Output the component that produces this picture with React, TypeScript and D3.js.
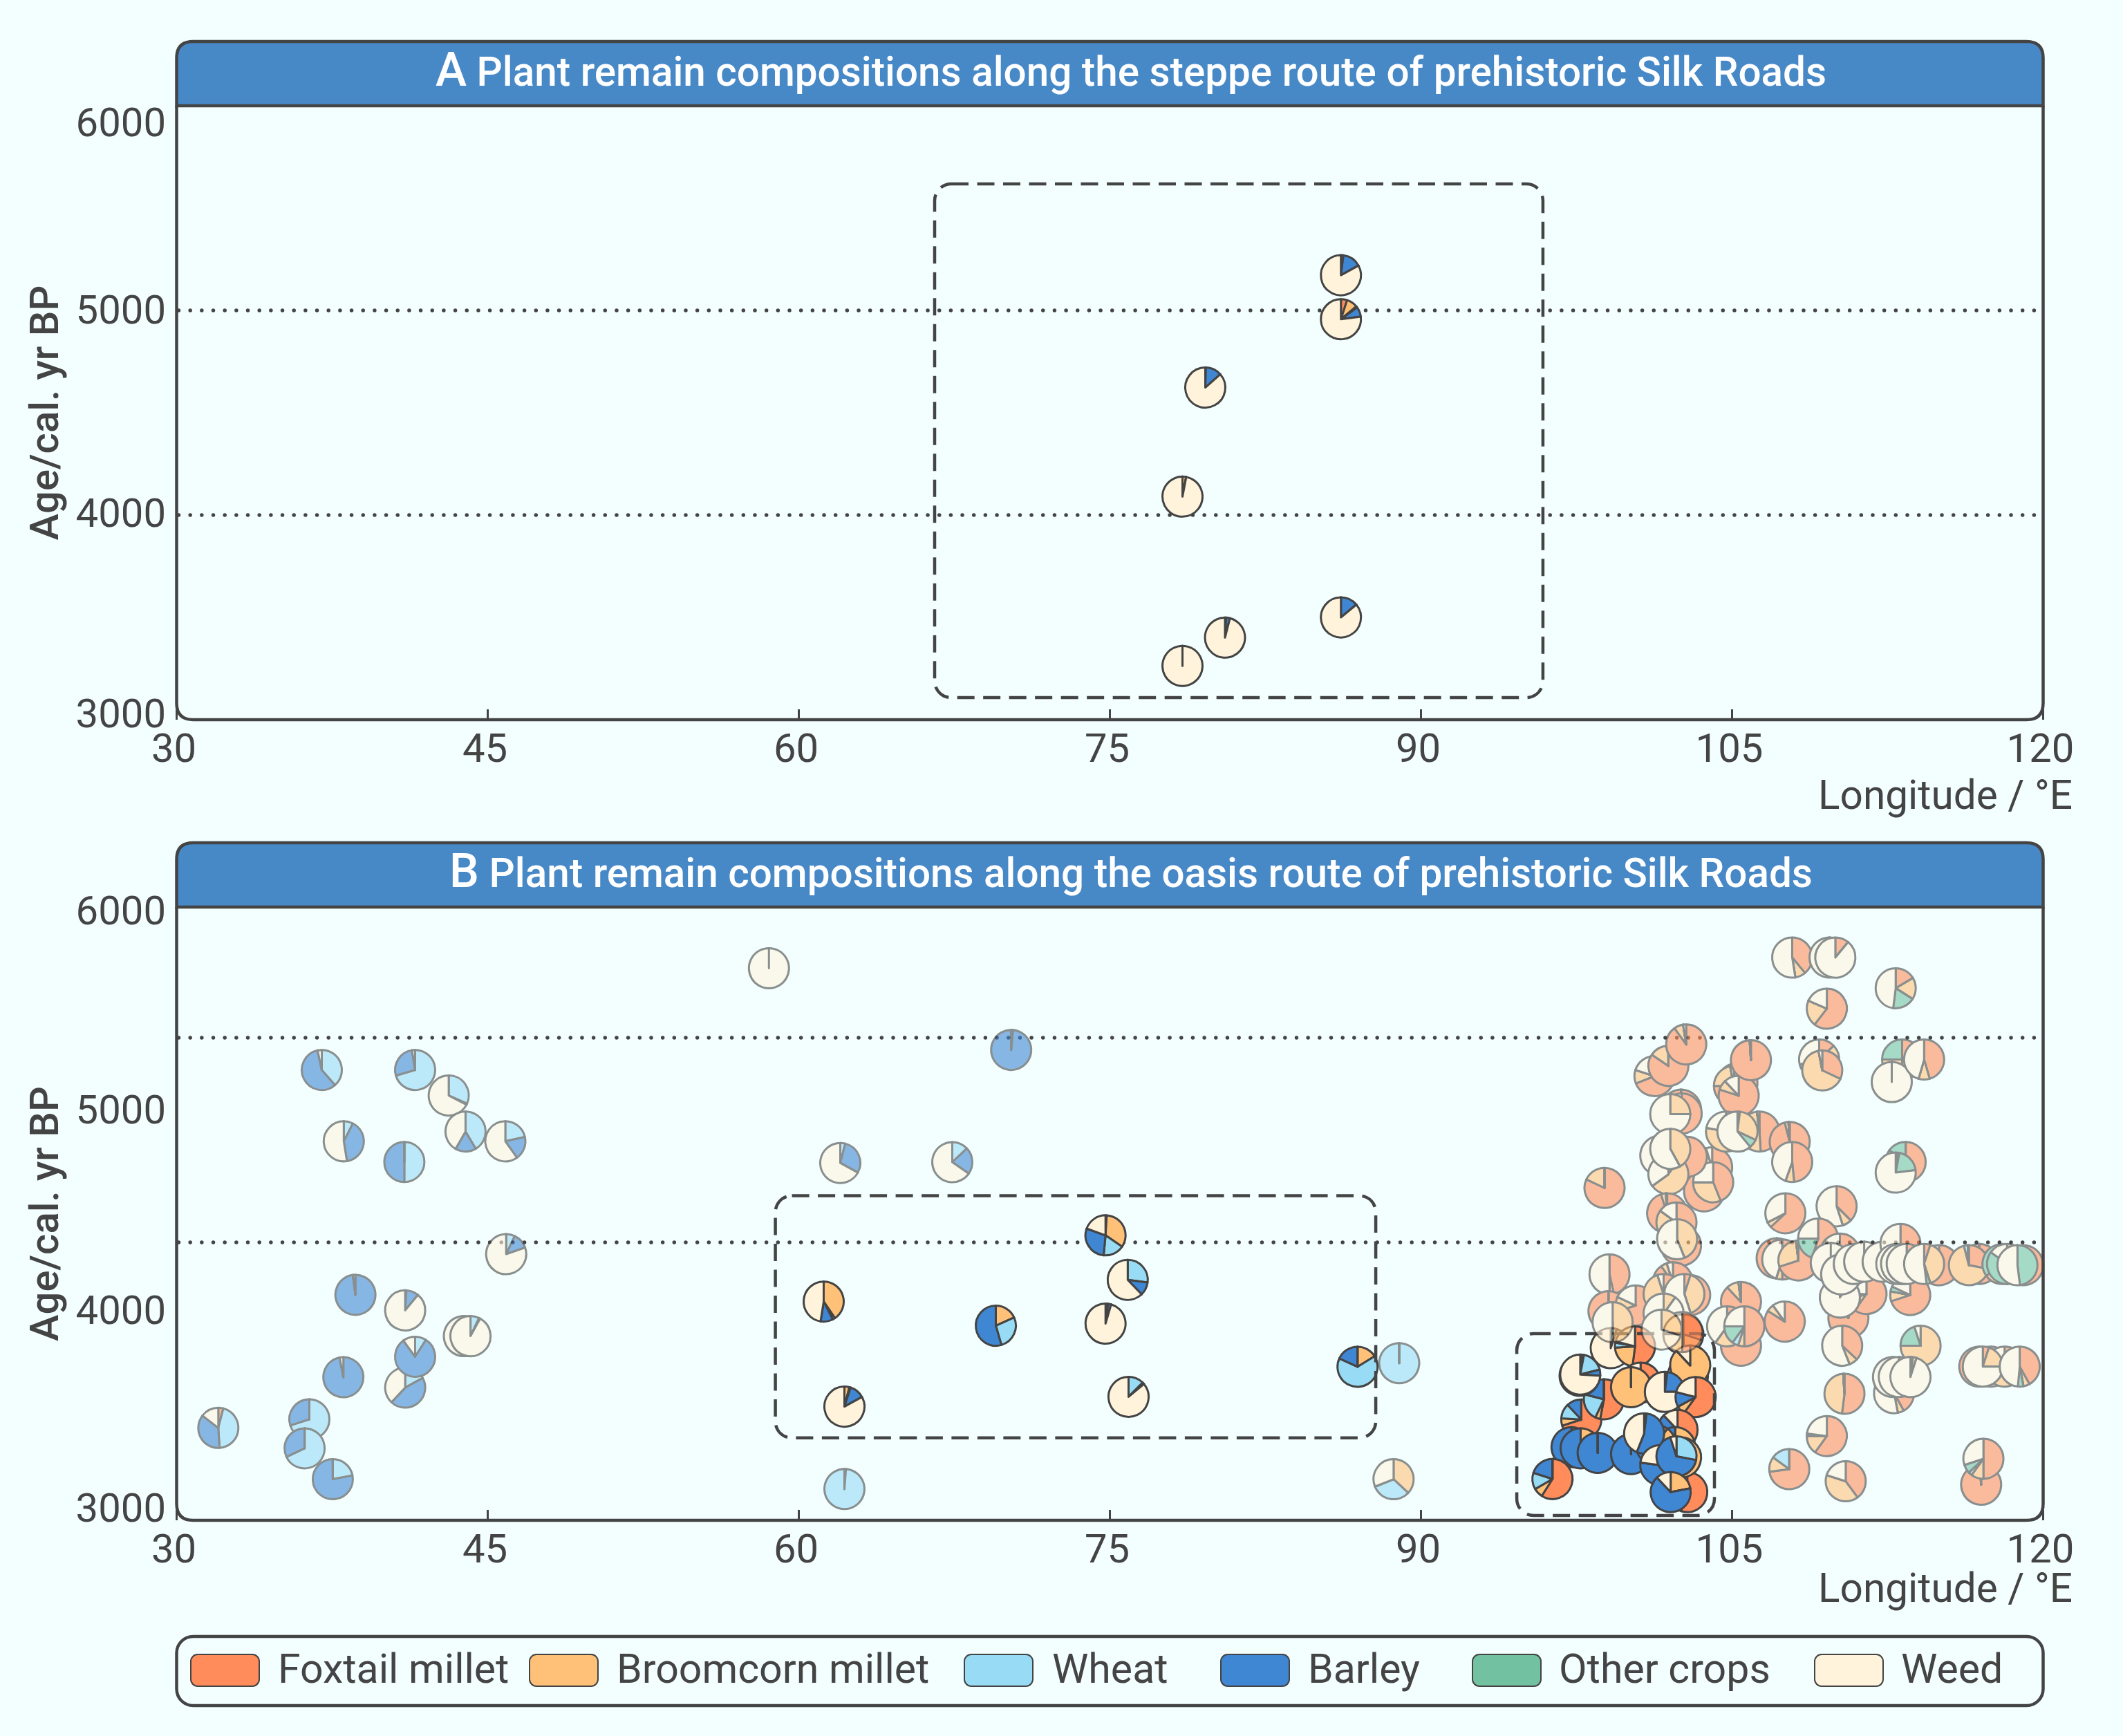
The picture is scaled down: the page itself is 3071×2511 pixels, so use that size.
import React from "react";
import * as d3 from "d3";

const W = 3071, H = 2511;
const categories = ["Foxtail millet", "Broomcorn millet", "Wheat", "Barley", "Other crops", "Weed"];
const colors = ["#ff8c5a", "#ffc178", "#98dbf5", "#3f86d3", "#72c2a2", "#fff3dc"];
const xTicks = [30, 45, 60, 75, 90, 105, 120];
const yTicks = [6000, 5000, 4000, 3000];

// [longitude, age, foxtail, broomcorn, wheat, barley, other, weed]
type P = number[];
const steppePies: P[] = [
  [86.14, 5172, 0, 0, .02, .15, 0, .83],
  [86.14, 4957, .05, .09, .01, .08, 0, .77],
  [79.6, 4623, 0, 0, .005, .13, 0, .865],
  [78.5, 4090, 0, .03, 0, 0, 0, .97],
  [86.14, 3500, 0, 0, 0, .14, 0, .86],
  [80.55, 3401, 0, 0, .01, .03, 0, .96],
  [78.5, 3263, 0, 0, 0, 0, 0, 1],
];
const oasisSolid: P[] = [
  [74.79, 4394, .01, .335, .17, .29, 0, .195],
  [75.86, 4176, 0, 0, .27, .108, 0, .622],
  [61.2, 4070, 0, .405, .02, .10, 0, .475],
  [69.5, 3952, 0, .183, .272, .545, 0, 0],
  [74.79, 3962, 0, .02, 0, .025, 0, .955],
  [62.2, 3556, 0, .04, .01, .12, 0, .83],
  [75.9, 3604, 0, 0, .125, .015, 0, .86],
  [86.94, 3751, 0, .162, .657, .181, 0, 0],
  [102.65, 3910, .3, .2, 0, 0, 0, .5],
  [102.87, 3707, .1, .3, .1, .1, 0, .4],
  [99.15, 3842, 0, 0, .05, 0, 0, .95],
  [100.32, 3851, .52, .22, .04, .01, 0, .21],
  [100.59, 3673, .9, 0, 0, 0, 0, .1],
  [97.73, 3493, .7, .06, .12, .12, 0, 0],
  [98.82, 3592, .53, .04, .22, .21, 0, 0],
  [97.65, 3707, 0, 0, 0, 0, 0, 1],
  [97.68, 3713, .02, .01, .18, .05, 0, .74],
  [100.13, 3651, 0, 1, 0, 0, 0, 0],
  [102.98, 3758, 0, .88, 0, 0, 0, .12],
  [101.76, 3628, 0, 0, .02, .23, 0, .75],
  [103.24, 3603, .6, .07, 0, .12, 0, .21],
  [102.84, 3138, .55, .2, 0, .12, 0, .13],
  [102.37, 3442, .5, .05, 0, .33, 0, .12],
  [102.26, 3358, 0, .7, .1, .2, 0, 0],
  [102.54, 3307, 0, .6, 0, .4, 0, 0],
  [97.26, 3358, 0, 0, 0, 1, 0, 0],
  [97.7, 3352, 0, .2, 0, .8, 0, 0],
  [98.52, 3330, 0, 0, 0, 1, 0, 0],
  [100.13, 3324, 0, 0, 0, 1, 0, 0],
  [101.32, 3369, .1, .1, .2, .6, 0, 0],
  [100.76, 3425, .02, 0, 0, .54, 0, .44],
  [101.54, 3270, 0, 0, 0, .77, 0, .23],
  [102.32, 3313, 0, 0, .28, .67, 0, .05],
  [102.04, 3138, 0, .22, 0, .66, 0, .12],
  [96.34, 3202, .59, .077, .134, .2, 0, 0],
];
const oasisFaded: P[] = [
  [37.0, 5203, 0, 0, .386, .58, 0, .034],
  [41.5, 5203, 0, 0, .705, .27, 0, .025],
  [43.12, 5078, 0, 0, .316, .01, 0, .674],
  [43.93, 4902, 0, 0, .415, .168, 0, .417],
  [45.85, 4854, 0, 0, .215, .187, 0, .598],
  [38.06, 4854, 0, 0, .075, .40, 0, .525],
  [40.98, 4753, 0, 0, .5, .5, 0, 0],
  [45.89, 4302, 0, 0, .07, .127, 0, .803],
  [38.62, 4103, 0, 0, 0, .98, 0, .02],
  [41.02, 4027, 0, 0, .01, .10, 0, .89],
  [43.85, 3901, 0, 0, 0, 0, 0, 1],
  [44.17, 3901, 0, 0, .07, .01, 0, .92],
  [41.02, 3649, 0, 0, .17, .45, 0, .38],
  [41.5, 3800, 0, 0, .09, .81, 0, .10],
  [38.04, 3700, 0, 0, 0, .97, 0, .03],
  [36.4, 3494, 0, 0, .70, .30, 0, 0],
  [36.17, 3352, 0, 0, .68, .32, 0, 0],
  [37.53, 3201, 0, 0, .22, .78, 0, 0],
  [32.01, 3452, .04, 0, .45, .365, 0, .145],
  [58.56, 5701, 0, 0, 0, 0, 0, 1],
  [70.24, 5301, 0, 0, .015, .985, 0, 0],
  [62.0, 4748, 0, 0, .04, .29, 0, .67],
  [67.4, 4752, 0, 0, .13, .217, 0, .653],
  [88.95, 3769, 0, 0, 1, 0, 0, 0],
  [62.2, 3153, 0, .012, .988, 0, 0, 0],
  [88.68, 3201, 0, .37, .32, 0, 0, .31],
  [98.85, 4626, .82, .18, 0, 0, 0, 0],
  [101.26, 5173, .69, .11, 0, 0, 0, .2],
  [101.93, 5223, .845, .155, 0, 0, 0, 0],
  [102.79, 5328, .9, .075, 0, 0, 0, .025],
  [102.54, 5009, 1, 0, 0, 0, 0, 0],
  [102.57, 4990, .72, .2, 0, 0, 0, .08],
  [102.02, 4987, 0, .25, 0, 0, 0, .75],
  [105.26, 5139, .7, .25, 0, 0, 0, .05],
  [105.09, 5125, .75, .22, 0, 0, 0, .03],
  [105.32, 5077, .8, .08, 0, 0, 0, .12],
  [105.91, 5251, .99, 0, 0, 0, 0, .01],
  [103.65, 4609, 1, 0, 0, 0, 0, 0],
  [104.04, 4727, .7, .25, 0, 0, 0, .05],
  [104.09, 4654, .44, .31, 0, 0, 0, .25],
  [102.82, 4778, .6, .3, 0, 0, 0, .1],
  [101.54, 4784, 0, .6, 0, 0, 0, .4],
  [101.93, 4693, .1, .55, 0, 0, 0, .35],
  [102.02, 4817, 0, .42, 0, 0, 0, .58],
  [104.71, 4902, 0, .78, 0, 0, 0, .22],
  [106.32, 4902, .49, .49, 0, 0, 0, .02],
  [105.26, 4902, .02, .3, 0, 0, .07, .61],
  [101.87, 4502, .95, .04, 0, 0, 0, .01],
  [102.32, 4457, .5, .35, 0, 0, 0, .15],
  [102.54, 4344, .8, .2, 0, 0, 0, 0],
  [102.35, 4375, 0, .44, 0, 0, 0, .56],
  [107.78, 4851, .96, .03, 0, 0, 0, .01],
  [107.9, 4753, .485, .07, 0, 0, 0, .445],
  [107.57, 4502, .63, .045, 0, 0, 0, .325],
  [110.04, 4536, .375, .075, 0, 0, 0, .55],
  [107.9, 5753, .39, .085, 0, 0, 0, .525],
  [109.7, 5753, 0, 0, 0, 0, 0, 1],
  [109.98, 5753, .11, 0, 0, 0, 0, .89],
  [109.57, 5503, .605, .21, 0, 0, 0, .185],
  [112.89, 5603, .165, .175, 0, 0, .18, .48],
  [109.2, 5254, .13, .55, 0, 0, .03, .29],
  [109.35, 5201, .32, .65, 0, 0, 0, .03],
  [113.2, 5254, .5, .25, 0, 0, .25, 0],
  [112.7, 5144, 0, 0, 0, 0, 0, 1],
  [114.26, 5254, .455, .09, 0, 0, 0, .455],
  [113.37, 4753, .5, .35, 0, 0, .15, 0],
  [112.89, 4701, .01, .02, 0, 0, .2, .77],
  [99.09, 4203, .465, .035, 0, 0, 0, .5],
  [99.04, 4023, 1, 0, 0, 0, 0, 0],
  [100.35, 4051, .7, .12, 0, 0, 0, .18],
  [99.24, 3969, 0, .5, 0, 0, 0, .5],
  [102.15, 4164, .9, .05, 0, 0, 0, .05],
  [101.7, 4107, .6, .35, 0, 0, 0, .05],
  [102.98, 4102, 1, 0, 0, 0, 0, 0],
  [102.7, 4107, .05, .4, 0, 0, 0, .55],
  [101.7, 4011, 0, .1, 0, 0, 0, .9],
  [102.6, 3921, .5, .2, 0, 0, 0, .3],
  [101.6, 3933, 0, .3, 0, 0, 0, .7],
  [105.43, 3854, 1, 0, 0, 0, 0, 0],
  [105.43, 4068, .88, .1, 0, 0, 0, .02],
  [104.76, 3949, .3, .3, 0, 0, 0, .4],
  [105.59, 3949, .5, .05, .05, 0, .15, .25],
  [107.54, 3972, .84, .06, 0, 0, 0, .1],
  [107.76, 3250, .73, .12, .15, 0, 0, 0],
  [107.15, 4282, 1, 0, 0, 0, 0, 0],
  [107.42, 4276, .5, .05, 0, 0, 0, .45],
  [108.2, 4271, .7, .28, 0, 0, 0, .02],
  [109.15, 4378, .55, 0, 0, 0, .2, .25],
  [110.2, 4305, .3, .3, 0, 0, 0, .4],
  [110.61, 3989, .97, .03, 0, 0, 0, 0],
  [111.48, 4107, .6, .1, 0, 0, .05, .25],
  [110.2, 4090, 0, .1, 0, 0, 0, .9],
  [109.76, 4259, 0, 0, 0, 0, 0, 1],
  [110.26, 4203, 0, 0, 0, 0, 0, 1],
  [110.87, 4254, .02, 0, 0, 0, 0, .98],
  [111.37, 4265, 0, 0, 0, 0, 0, 1],
  [112.26, 4265, 0, 0, 0, 0, .02, .98],
  [113.12, 4352, .5, 0, 0, 0, 0, .5],
  [113.59, 4102, .7, .08, 0, 0, .04, .18],
  [112.92, 4254, 0, .05, 0, 0, 0, .95],
  [113.15, 4254, .1, 0, 0, 0, 0, .9],
  [114.98, 4248, .6, .25, 0, 0, 0, .15],
  [113.42, 4254, .1, .1, 0, 0, 0, .8],
  [114.26, 4254, .05, .4, 0, 0, .03, .52],
  [116.92, 4254, 1, 0, 0, 0, 0, 0],
  [116.42, 4248, .28, .68, .03, 0, 0, .01],
  [119.04, 4248, 1, 0, 0, 0, 0, 0],
  [118.04, 4254, .05, .6, 0, 0, .3, .05],
  [118.26, 4254, .1, .4, 0, 0, .35, .15],
  [118.76, 4248, 0, 0, 0, 0, .48, .52],
  [110.31, 3854, .37, .07, 0, 0, 0, .56],
  [114.09, 3854, 0, .75, 0, 0, .2, .05],
  [112.81, 3622, .42, .05, 0, 0, 0, .53],
  [113.59, 3701, .55, .03, .02, 0, 0, .4],
  [112.76, 3701, 0, 0, 0, 0, 0, 1],
  [113.04, 3701, 0, .05, 0, 0, 0, .95],
  [113.6, 3701, .02, .03, 0, 0, 0, .95],
  [110.42, 3619, .52, .47, 0, 0, 0, .01],
  [109.57, 3412, .6, .15, .02, 0, 0, .23],
  [110.48, 3191, .4, .4, 0, 0, 0, .2],
  [117.01, 3174, .99, 0, 0, 0, 0, .01],
  [117.12, 3301, .5, .1, .03, 0, .07, .3],
  [116.92, 3752, 1, 0, 0, 0, 0, 0],
  [117.48, 3752, .4, .3, 0, 0, 0, .3],
  [118.14, 3752, .3, .3, 0, 0, .15, .25],
  [117.09, 3752, .05, .2, 0, 0, 0, .75],
  [118.87, 3752, .42, .05, 0, 0, .045, .485],
];

const steppeLines = [5000, 4000];
const oasisLines = [5361, 4360];
// [lonMin, lonMax, ageMin, ageMax]
const steppeBoxes = [[66.55, 95.88, 3108, 5618]];
const oasisBoxes = [[58.87, 87.82, 3403, 4588], [94.62, 104.15, 3024, 3913]];

const INK = "#444444";
const FONT = "Roboto, sans-serif";
const LEFT = 255.5, RIGHT = 2955.5, R = 29;
const TAU = Math.PI * 2;
const xs = d3.scaleLinear().domain([30, 120]).range([LEFT, RIGHT]);
const pieGen = d3.pie<number>().sort(null).value((d) => d);
const arcGen = d3.arc<d3.PieArcDatum<number>>().innerRadius(0).outerRadius(R);

function Pies({ rows, y }: { rows: P[]; y: d3.ScaleLinear<number, number> }) {
  return (
    <>
      {rows.map((r, i) => (
        <g key={i} transform={`translate(${xs(r[0])},${y(r[1])})`}>
          {pieGen(r.slice(2)).map((s, j) => (
            <path key={j} d={arcGen({ ...s, endAngle: Math.min(s.endAngle, TAU - 1e-4) }) as string} fill={colors[j]} stroke={INK} strokeWidth={3} strokeLinejoin="round" />
          ))}
        </g>
      ))}
    </>
  );
}

function Panel(props: {
  top: number; headerBottom: number; bottom: number; letter: string; title: string; titleBase: number;
  solid: P[]; faded: P[]; lines: number[]; boxes: number[][]; labelBase: number[]; xNameBase: number;
}) {
  const { top, headerBottom, bottom, letter, title, titleBase, solid, faded, lines, boxes, labelBase, xNameBase } = props;
  const y = d3.scaleLinear().domain([3000, 6000]).range([bottom, headerBottom]);
  const rad = 24;
  const header = `M${LEFT},${headerBottom}V${top + rad}Q${LEFT},${top} ${LEFT + rad},${top}H${RIGHT - rad}Q${RIGHT},${top} ${RIGHT},${top + rad}V${headerBottom}Z`;
  const frame = `M${LEFT},${headerBottom}V${bottom - rad}Q${LEFT},${bottom} ${LEFT + rad},${bottom}H${RIGHT - rad}Q${RIGHT},${bottom} ${RIGHT},${bottom - rad}V${headerBottom}`;
  return (
    <g>
      <path d={header} fill="#4788c7" stroke={INK} strokeWidth={4.5} />
      <text x={1636} y={titleBase} textAnchor="middle" fill="#ffffff" fontFamily={FONT} fontWeight={500} fontSize={58.4}>
        <tspan fontSize={68}>{letter}</tspan> {title}
      </text>
      {lines.map((l) => (
        <line key={l} x1={LEFT + 3} x2={RIGHT} y1={y(l)} y2={y(l)} stroke={INK} strokeWidth={5.5} strokeLinecap="round" strokeDasharray="0 16.67" />
      ))}
      <Pies rows={solid} y={y} />
      {boxes.map((b, i) => (
        <rect key={i} x={xs(b[0])} width={xs(b[1]) - xs(b[0])} y={y(b[3])} height={y(b[2]) - y(b[3])} rx={24} fill="none" stroke={INK} strokeWidth={4.5} strokeDasharray="25 12.5" />
      ))}
      <g opacity={0.6}><Pies rows={faded} y={y} /></g>
      <path d={frame} fill="none" stroke={INK} strokeWidth={4.5} />
      {xTicks.map((t) => (
        <g key={t}>
          <line x1={xs(t)} x2={xs(t)} y1={bottom} y2={bottom - 15} stroke={INK} strokeWidth={3} />
          <text x={xs(t) - 4} y={bottom + 61} textAnchor="middle" fill={INK} fontFamily={FONT} fontSize={58}>{t}</text>
        </g>
      ))}
      {yTicks.map((t, i) => (
        <text key={t} x={240} y={labelBase[i]} textAnchor="end" fill={INK} fontFamily={FONT} fontSize={58}>{t}</text>
      ))}
      <text x={2998} y={xNameBase} textAnchor="end" fill={INK} fontFamily={FONT} fontSize={58.5}>Longitude / °E</text>
      <text transform={`translate(84,${(headerBottom + bottom) / 2}) rotate(-90)`} textAnchor="middle" fill={INK} fontFamily={FONT} fontWeight={500} fontSize={58}>Age/cal. yr BP</text>
    </g>
  );
}

const legendSwatchX = [276, 766, 1395, 1766, 2130, 2625];
const legendTextX = [402, 892, 1522, 1892, 2255, 2750];

export default function App() {
  return (
    <svg width={W} height={H} viewBox={`0 0 ${W} ${H}`} style={{ position: "absolute", left: 0, top: 0, display: "block" }}>
      <rect width={W} height={H} fill="#f3ffff" />
      <Panel top={60} headerBottom={153} bottom={1041} letter="A" title="Plant remain compositions along the steppe route of prehistoric Silk Roads" titleBase={124}
        solid={steppePies} faded={[]} lines={steppeLines} boxes={steppeBoxes} labelBase={[197, 468, 762, 1052]} xNameBase={1170} />
      <Panel top={1219} headerBottom={1312} bottom={2199} letter="B" title="Plant remain compositions along the oasis route of prehistoric Silk Roads" titleBase={1283}
        solid={oasisSolid} faded={oasisFaded} lines={oasisLines} boxes={oasisBoxes} labelBase={[1337, 1625, 1915, 2201]} xNameBase={2317} />
      <rect x={LEFT} y={2367} width={RIGHT - LEFT} height={100} rx={24} fill="none" stroke={INK} strokeWidth={4.5} />
      {categories.map((c, i) => (
        <g key={c}>
          <rect x={legendSwatchX[i]} y={2393} width={99} height={46} rx={10} fill={colors[i]} stroke={INK} strokeWidth={2} />
          <text x={legendTextX[i]} y={2434} fill={INK} fontFamily={FONT} fontSize={59}>{c}</text>
        </g>
      ))}
    </svg>
  );
}
